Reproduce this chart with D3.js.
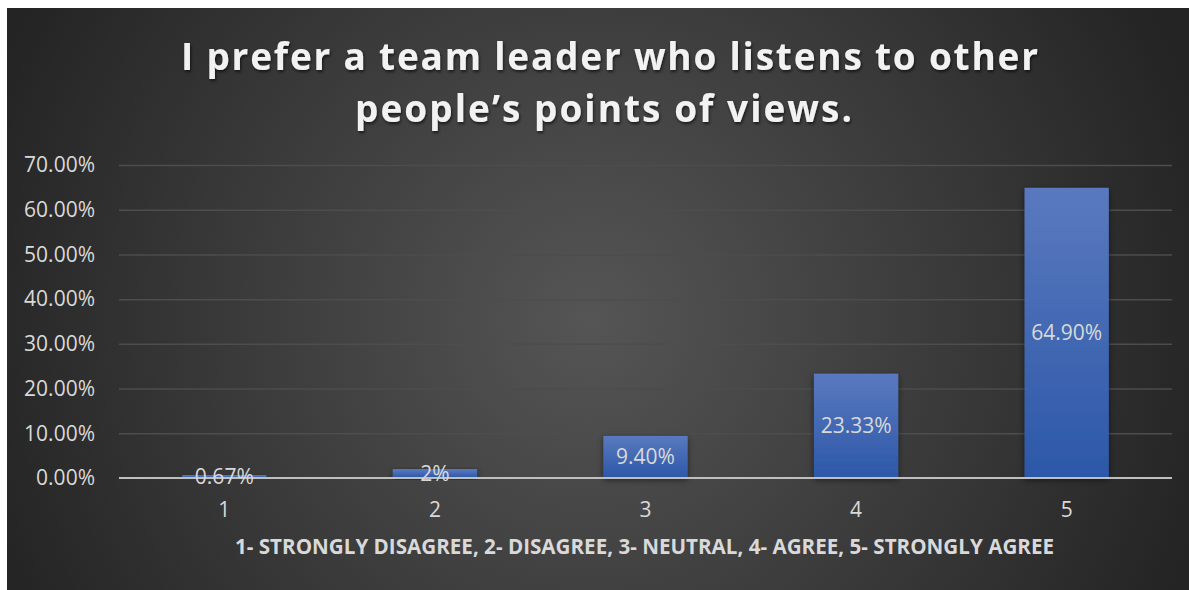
<!DOCTYPE html>
<html>
<head>
<meta charset="utf-8">
<script src="https://cdn.jsdelivr.net/npm/d3@7"></script>
<style>
  html, body { margin: 0; padding: 0; background: #ffffff; }
  svg { display: block; }
  text { font-family: "Open Sans", "DejaVu Sans", sans-serif; }
</style>
</head>
<body>
<svg id="chart" width="1189" height="590"></svg>
<script>
// Survey responses on a 5-point Likert scale
const categories = ["1", "2", "3", "4", "5"];
const shares = [0.0067, 0.02, 0.094, 0.2333, 0.649];
const valueLabels = ["0.67%", "2%", "9.40%", "23.33%", "64.90%"];
const yTicks = [0, 0.1, 0.2, 0.3, 0.4, 0.5, 0.6, 0.7];
const titleLines = ["I prefer a team leader who listens to other", "people\u2019s points of views."];
const axisTitle = "1- STRONGLY DISAGREE, 2- DISAGREE, 3- NEUTRAL, 4- AGREE, 5- STRONGLY AGREE";

const W = 1189, H = 590;
const svg = d3.select("#chart");
const defs = svg.append("defs");

// Panel background: dark radial glow
const bg = defs.append("radialGradient").attr("id", "bgGrad")
  .attr("gradientUnits", "userSpaceOnUse")
  .attr("cx", 590).attr("cy", 320).attr("r", 640);
bg.append("stop").attr("offset", "0%").attr("stop-color", "#555555");
bg.append("stop").attr("offset", "60%").attr("stop-color", "#383838");
bg.append("stop").attr("offset", "100%").attr("stop-color", "#242424");

const barGrad = defs.append("linearGradient").attr("id", "barGrad")
  .attr("x1", 0).attr("y1", 0).attr("x2", 0).attr("y2", 1);
barGrad.append("stop").attr("offset", "0%").attr("stop-color", "#5a79bf");
barGrad.append("stop").attr("offset", "100%").attr("stop-color", "#2c58a8");

const shadow = defs.append("filter").attr("id", "barShadow")
  .attr("x", "-20%").attr("y", "-20%").attr("width", "140%").attr("height", "140%");
shadow.append("feDropShadow").attr("dx", 0).attr("dy", 2).attr("stdDeviation", 3)
  .attr("flood-color", "#000").attr("flood-opacity", 0.5);

const textShadow = defs.append("filter").attr("id", "titleShadow")
  .attr("x", "-5%").attr("y", "-30%").attr("width", "110%").attr("height", "160%");
textShadow.append("feDropShadow").attr("dx", 1).attr("dy", 2).attr("stdDeviation", 1.5)
  .attr("flood-color", "#000").attr("flood-opacity", 0.6);

svg.append("rect").attr("x", 7).attr("y", 8).attr("width", W - 7).attr("height", H - 8)
  .attr("fill", "url(#bgGrad)");

// Title
const title = svg.append("g").attr("filter", "url(#titleShadow)");
const titleBoxes = [{ x: 181, w: 857, y: 70 }, { x: 355, w: 497, y: 122 }];
titleLines.forEach((t, i) => {
  title.append("text")
    .attr("x", titleBoxes[i].x).attr("y", titleBoxes[i].y)
    .attr("textLength", titleBoxes[i].w).attr("lengthAdjust", "spacing")
    .attr("font-size", 37).attr("font-weight", 700)
    .attr("fill", "#f2f2f2")
    .text(t);
});

// Plot area
const plot = { left: 119, right: 1172, top: 165, bottom: 478 };
const x = d3.scaleBand().domain(categories).range([plot.left, plot.right]).paddingInner(0.6).paddingOuter(0.3);
const y = d3.scaleLinear().domain([0, 0.7]).range([plot.bottom, plot.top]);

// Gridlines
const grid = svg.append("g")
  .attr("transform", `translate(${plot.left},0)`)
  .call(d3.axisLeft(y).tickValues(yTicks.filter(v => v > 0)).tickSize(-(plot.right - plot.left)).tickFormat(""));
grid.select(".domain").remove();
grid.selectAll("line").attr("stroke", "#4d4d4d").attr("stroke-width", 1.5);

// Y tick labels
const yAxis = svg.append("g")
  .attr("transform", `translate(${plot.left},0)`)
  .call(d3.axisLeft(y).tickValues(yTicks).tickSize(0).tickPadding(24).tickFormat(d3.format(".2%")));
yAxis.select(".domain").remove();
yAxis.selectAll("text").attr("font-size", 21).attr("fill", "#d9d9d9")
  .attr("font-family", "\"Open Sans\", sans-serif");

// Bars
svg.append("g").selectAll("rect").data(shares).join("rect")
  .attr("x", (d, i) => x(categories[i]))
  .attr("y", d => y(d))
  .attr("width", x.bandwidth())
  .attr("height", d => y(0) - y(d))
  .attr("fill", "url(#barGrad)")
  .attr("filter", "url(#barShadow)");

// Baseline
svg.append("line")
  .attr("x1", plot.left).attr("x2", plot.right)
  .attr("y1", y(0)).attr("y2", y(0))
  .attr("stroke", "#bfbfbf").attr("stroke-width", 2);

// Value labels centred in each bar
svg.append("g").selectAll("text").data(shares).join("text")
  .attr("x", (d, i) => x(categories[i]) + x.bandwidth() / 2)
  .attr("y", d => (y(d) + y(0)) / 2)
  .attr("dy", "0.35em")
  .attr("text-anchor", "middle")
  .attr("font-size", 21).attr("fill", "#d9d9d9")
  .text((d, i) => valueLabels[i]);

// X category labels
const xAxis = svg.append("g")
  .attr("transform", `translate(0,${plot.bottom})`)
  .call(d3.axisBottom(x).tickSize(0).tickPadding(24));
xAxis.select(".domain").remove();
xAxis.selectAll("text").attr("font-size", 21).attr("fill", "#d9d9d9")
  .attr("font-family", "\"Open Sans\", sans-serif");

// Axis title
svg.append("text")
  .attr("x", 235).attr("y", 554)
  .attr("textLength", 819).attr("lengthAdjust", "spacingAndGlyphs")
  .attr("font-size", 21).attr("font-weight", 700)
  .attr("fill", "#d9d9d9")
  .text(axisTitle);
</script>
</body>
</html>
